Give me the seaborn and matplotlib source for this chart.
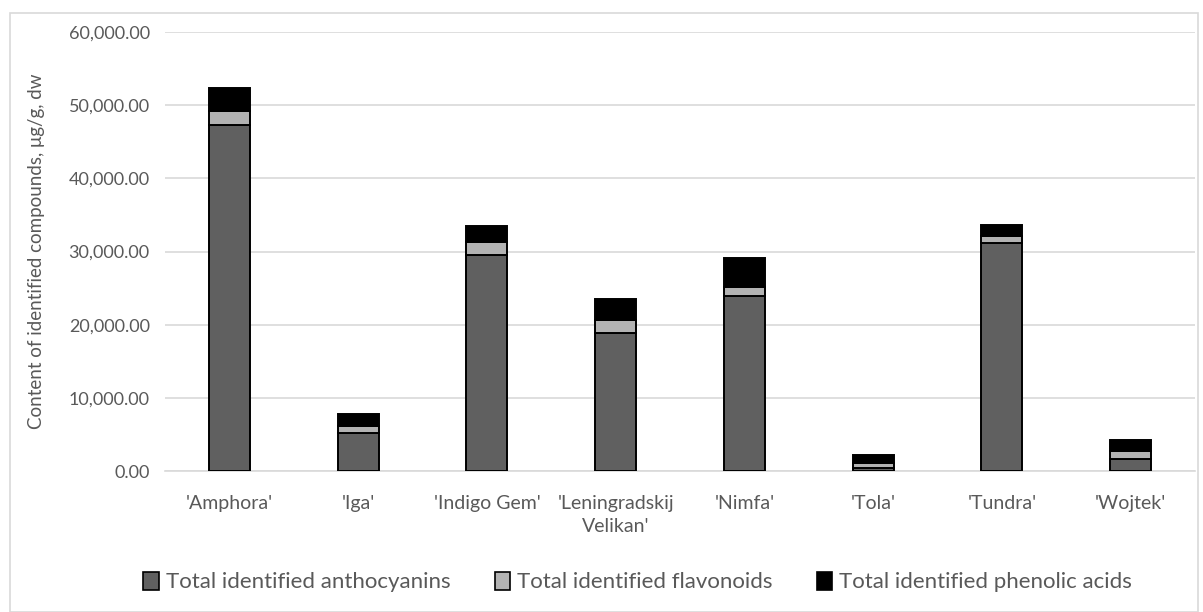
import matplotlib
matplotlib.use("Agg")
import matplotlib.pyplot as plt
import seaborn as sns
import pandas as pd
from matplotlib.patches import Rectangle, Patch
from matplotlib.ticker import FuncFormatter

cultivars = ["'Amphora'", "'Iga'", "'Indigo Gem'", "'Leningradskij\nVelikan'",
             "'Nimfa'", "'Tola'", "'Tundra'", "'Wojtek'"]
anthocyanins = [47300, 5200, 29550, 18900, 23900, 350, 31200, 1600]
flavonoids = [1900, 950, 1780, 1760, 1250, 700, 950, 1090]
phenolic_acids = [3100, 1650, 2190, 2870, 3950, 1100, 1500, 1550]
series_names = ["Total identified anthocyanins", "Total identified flavonoids",
                "Total identified phenolic acids"]
colors = ["#606060", "#b3b3b3", "#000000"]

sns.set_theme(style="white")
plt.rcParams['font.family'] = ['Lato', 'DejaVu Sans']
txt = "#595959"

fig = plt.figure(figsize=(12.03, 6.12), dpi=100)
ax = fig.add_axes([165/1203, 1-471/612, 1030/1203, (471-32)/612])

df = pd.DataFrame({"cultivar": cultivars, "a": anthocyanins,
                   "f": flavonoids, "p": phenolic_acids})
bottom1 = df["a"].values
bottom2 = (df["a"] + df["f"]).values
common = dict(x="cultivar", ax=ax, width=0.32, edgecolor="black", linewidth=1.4,
              order=cultivars, zorder=3)
sns.barplot(data=df, y="a", color=colors[0], **common)
sns.barplot(data=df, y="f", color=colors[1], bottom=bottom1, **common)
sns.barplot(data=df, y="p", color=colors[2], bottom=bottom2, **common)
for p in ax.patches:
    p.set_facecolor(p.get_facecolor()[:3] + (1.0,))

ax.set_ylim(0, 60000)
ax.set_xlim(-0.5, 7.5)
ax.set_yticks(range(0, 60001, 10000))
ax.yaxis.set_major_formatter(FuncFormatter(lambda v, _: f"{v:,.2f}"))
ax.grid(axis="y", color="#d9d9d9", linewidth=1.2, zorder=0)
ax.set_axisbelow(True)
for s in ["top", "right", "left"]:
    ax.spines[s].set_visible(False)
ax.spines["bottom"].set_color("#d9d9d9")
ax.spines["bottom"].set_linewidth(1.2)
ax.tick_params(axis="x", length=0, labelsize=14, colors=txt, pad=17)
ax.tick_params(axis="y", length=0, labelsize=13, colors=txt, pad=11)
for lbl in ax.get_xticklabels():
    lbl.set_linespacing(1.45)
ax.set_xlabel("")
ax.set_ylabel("Content of identified compounds, μg/g, dw", fontsize=13.5, color=txt, labelpad=17)

handles = [Patch(facecolor=c, edgecolor="black", linewidth=1.2) for c in colors]
fig.legend(handles, series_names, loc="center", bbox_to_anchor=(0.53, 1-582/612),
           ncol=3, frameon=False, fontsize=16, labelcolor=txt, handlelength=0.7,
           handleheight=0.9, handletextpad=0.3, columnspacing=2.0)

fig.patches.append(Rectangle((10/1203, 0), 1188/1203, 1-13/612, transform=fig.transFigure,
                             fill=False, edgecolor="#d9d9d9", linewidth=1.2))
fig.savefig("out.png", dpi=100)
